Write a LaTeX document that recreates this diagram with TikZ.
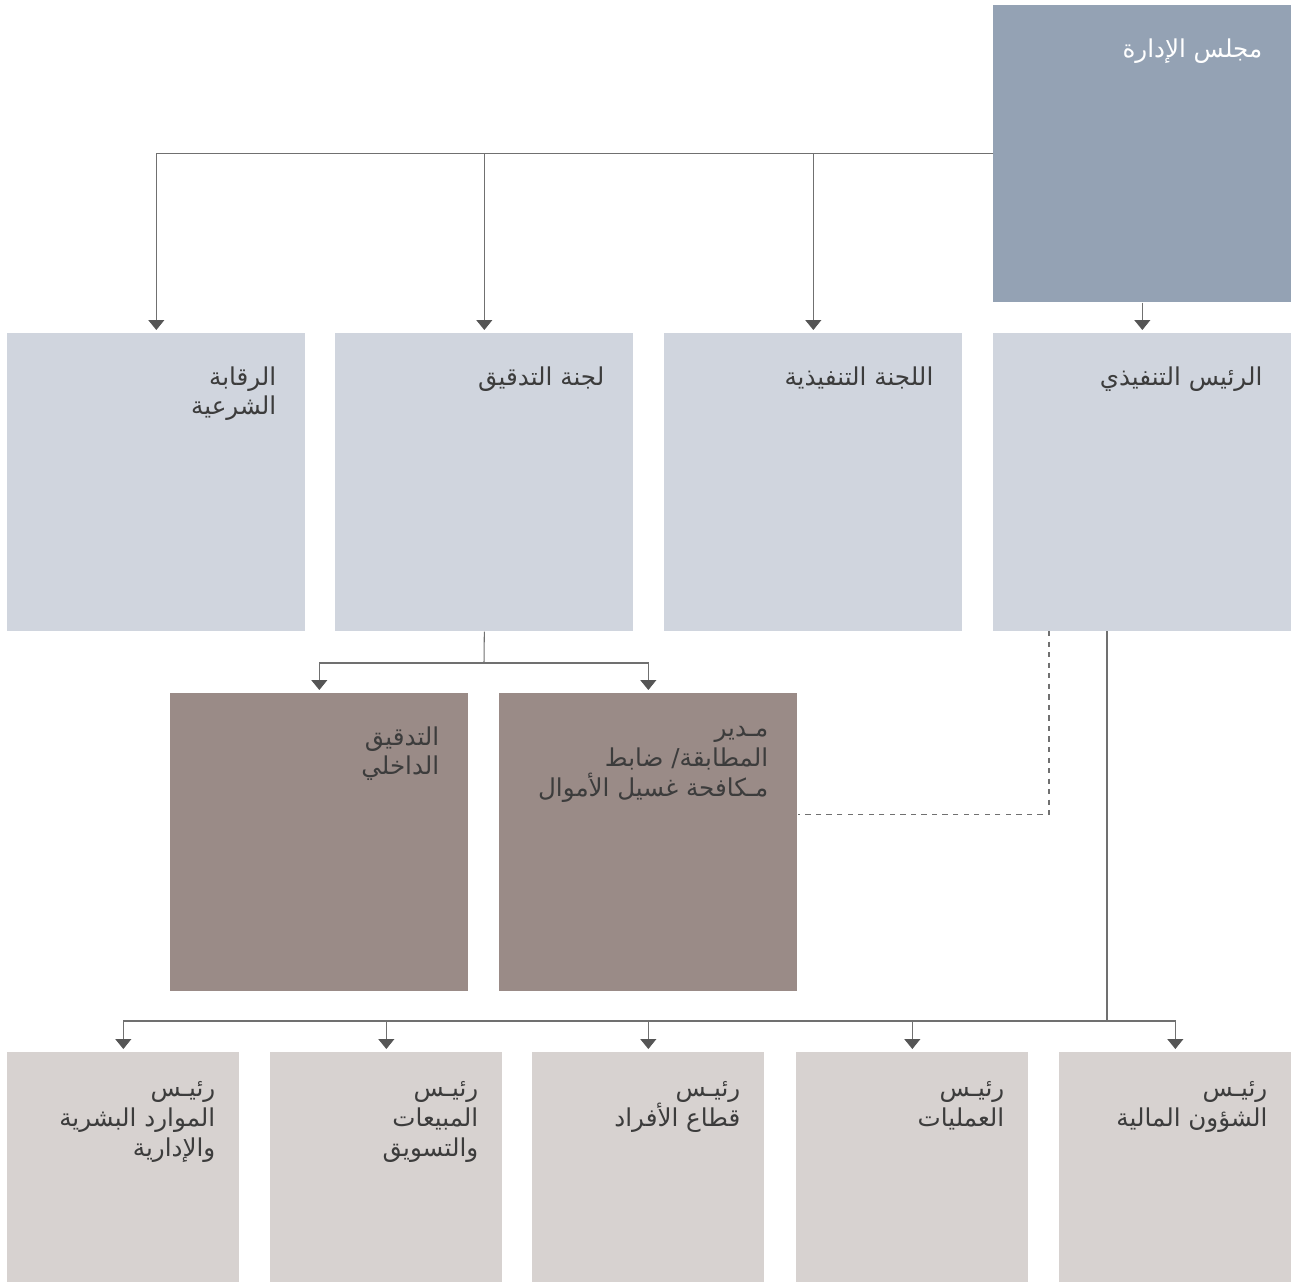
\documentclass[tikz,border=0pt]{standalone}
\usepackage{fontspec}
\newfontfamily\arabicfont[Script=Arabic]{DejaVu Sans}
\TeXXeTstate=1
\usetikzlibrary{arrows.meta}
\definecolor{boardblue}{RGB}{148,162,180}
\definecolor{committee}{RGB}{208,213,222}
\definecolor{controlbrown}{RGB}{154,139,135}
\definecolor{headgray}{RGB}{215,210,208}
\definecolor{linegray}{RGB}{112,112,112}
\definecolor{tipgray}{RGB}{85,85,85}
\definecolor{textgray}{RGB}{60,60,60}
\newcommand{\artext}[1]{\beginR #1\endR}

\begin{document}
\begin{tikzpicture}[x=0.02cm,y=-0.02cm,
  box/.style={anchor=north west,inner sep=0pt,minimum width=5.96cm,minimum height=5.96cm},
  smallbox/.style={box,minimum width=4.64cm,minimum height=4.6cm,fill=headgray},
  boxtext/.style={anchor=north east,align=right,inner sep=0pt,text=textgray,
    font=\arabicfont\fontsize{14}{17}\selectfont},
  conn/.style={draw=linegray,line width=0.6pt,
    -{Triangle[width=0.32cm,length=0.2cm,color=tipgray]},shorten >=0.06cm},
  dashline/.style={draw=linegray,line width=0.6pt,dashed}]
  \useasboundingbox (0,0) rectangle (1297,1283);

  \node[box,fill=boardblue,minimum height=5.94cm] (board) at (993,5) {};
  \node[boxtext,text=white] (board-t) at ([xshift=-0.58cm,yshift=-0.66cm]board.north east)
    {\artext{مجلس الإدارة}};

  \foreach \n/\px/\lines in {ceo/993/{\artext{الرئيس التنفيذي}},
      exec/664/{\artext{اللجنة التنفيذية}},
      audit/335/{\artext{لجنة التدقيق}},
      shariah/7/{\artext{الرقابة}\\\artext{الشرعية}}}{
    \node[box,fill=committee] (\n) at (\px,333) {};
    \node[boxtext] (\n-t) at ([xshift=-0.58cm,yshift=-0.66cm]\n.north east) {\lines};
  }

  \foreach \n/\px/\lines in {intaudit/170/{\artext{التدقيق}\\\artext{الداخلي}},
      compl/499/{\artext{مـدير}\\\artext{المطابقة/ ضابط}\\\artext{مـكافحة غسيل الأموال}}}{
    \node[box,fill=controlbrown] (\n) at (\px,693) {};
    \node[boxtext] (\n-t) at ([xshift=-0.58cm,yshift=-0.66cm]\n.north east) {\lines};
  }

  \foreach \n/\px/\lines in {finance/1059/{\artext{رئيـس}\\\artext{الشؤون المالية}},
      ops/796/{\artext{رئيـس}\\\artext{العمليات}},
      retail/532/{\artext{رئيـس}\\\artext{قطاع الأفراد}},
      sales/270/{\artext{رئيـس}\\\artext{المبيعات}\\\artext{والتسويق}},
      hr/7/{\artext{رئيـس}\\\artext{الموارد البشرية}\\\artext{والإدارية}}}{
    \node[smallbox] (\n) at (\px,1052) {};
    \node[boxtext] (\n-t) at ([xshift=-0.48cm,yshift=-0.58cm]\n.north east) {\lines};
  }

  \draw[conn] (board.south) -- (ceo.north);
  \foreach \n in {exec,audit,shariah}
    \draw[conn] (board.west) -| (\n.north);

  \coordinate (auditfork) at (484,663);
  \draw[linegray,line width=0.6pt] (audit.south) -- (auditfork);
  \foreach \n in {intaudit,compl}
    \draw[conn] (auditfork) -| (\n.north);

  \coordinate (dashtop) at (1049,631);
  \draw[dashline] (dashtop) |- ([yshift=0.56cm]compl.east);

  \coordinate (ceoline) at (1107,631);
  \coordinate (headbus) at (1107,1021);
  \draw[linegray,line width=0.6pt] (ceoline) -- (headbus);
  \foreach \n in {finance,ops,retail,sales,hr}
    \draw[conn] (headbus) -| (\n.north);
\end{tikzpicture}
\end{document}
